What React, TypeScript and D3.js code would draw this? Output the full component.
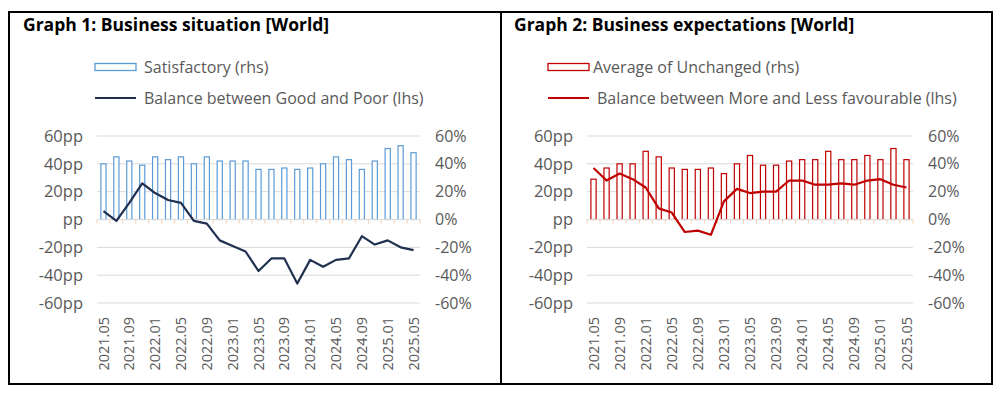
import * as d3 from "d3";

// bi-monthly survey waves
const periods = [
  "2021.05", "2021.07", "2021.09", "2021.11", "2022.01", "2022.03", "2022.05",
  "2022.07", "2022.09", "2022.11", "2023.01", "2023.03", "2023.05", "2023.07",
  "2023.09", "2023.11", "2024.01", "2024.03", "2024.05", "2024.07", "2024.09",
  "2024.11", "2025.01", "2025.03", "2025.05",
];
const tickLabels = [
  "2021.05", "2021.09", "2022.01", "2022.05", "2022.09", "2023.01", "2023.05",
  "2023.09", "2024.01", "2024.05", "2024.09", "2025.01", "2025.05",
];

// Graph 1
const satisfactory = [40, 45, 42, 39, 45, 43, 45, 40, 45, 42, 42, 42, 36, 36, 37, 36, 37, 40, 45, 43, 36, 42, 51, 53, 48];
const balanceGoodPoor = [6, -1, 12, 26, 19, 14, 12, -1, -3, -15, -19, -23, -37, -28, -28, -46, -29, -34, -29, -28, -12, -18, -15, -20, -22];

// Graph 2
const unchanged = [29, 37, 40, 40, 49, 45, 37, 36, 36, 37, 33, 40, 46, 39, 39, 42, 43, 43, 49, 43, 43, 46, 43, 51, 43];
const balanceMoreLess = [37, 28, 33, 29, 23, 8, 5, -9, -8, -11, 13, 22, 19, 20, 20, 28, 28, 25, 25, 26, 25, 28, 29, 25, 23];

const yTicks = [60, 40, 20, 0, -20, -40, -60];

const FONT = "'Open Sans', 'Noto Sans', sans-serif";
const GREY = "#595959";

type PanelProps = {
  title: string;
  barLabel: string;
  lineLabel: string;
  bars: number[];
  line: number[];
  barColor: string;
  lineColor: string;
  titleX: number;
  legendX: number;
  barTextX: number;
  lineTextX: number;
  plotLeft: number;
  plotRight: number;
};

function Panel(p: PanelProps) {
  const x = d3.scaleBand<string>()
    .domain(periods)
    .range([p.plotLeft, p.plotRight])
    .paddingInner(0.6)
    .paddingOuter(0.3);
  const yL = d3.scaleLinear().domain([-60, 60]).range([303, 136]);
  const yR = d3.scaleLinear().domain([-60, 60]).range([303, 136]);
  const cx = (d: string) => (x(d) ?? 0) + x.bandwidth() / 2;
  const boundaries = periods.map((d) => (x(d) ?? 0) - x.step() * 0.3).concat([p.plotRight]);

  const path = d3.line<number>()
    .x((_, i) => cx(periods[i]))
    .y((d) => yL(d))(p.line) ?? "";

  return (
    <g fontFamily={FONT}>
      <text x={p.titleX} y={31} fontWeight={700} fontSize={17.5} fill="#000">
        {p.title}
      </text>

      {/* legend */}
      <rect x={p.legendX} y={63.5} width={41} height={7} fill="#fff" stroke={p.barColor} strokeWidth={1.3} />
      <text x={p.barTextX} y={67} dy="0.35em" fontSize={16} fill={GREY}>{p.barLabel}</text>
      <line x1={p.legendX} x2={p.legendX + 41} y1={98} y2={98} stroke={p.lineColor} strokeWidth={2} />
      <text x={p.lineTextX} y={98} dy="0.35em" fontSize={16} fill={GREY}>{p.lineLabel}</text>

      {/* grid */}
      {yTicks.filter((t) => t !== 0).map((t) => (
        <line key={t} x1={p.plotLeft} x2={p.plotRight} y1={yL(t)} y2={yL(t)} stroke="#d9d9d9" strokeWidth={1} />
      ))}

      {/* left axis (pp) */}
      {yTicks.map((t) => (
        <text key={"l" + t} x={p.plotLeft - 14} y={yL(t)} dy="0.35em" textAnchor="end" fontSize={16.5} fill={GREY}>
          {t === 0 ? "pp" : `${t}pp`}
        </text>
      ))}
      {/* right axis (%) */}
      {yTicks.map((t) => (
        <text key={"r" + t} x={p.plotRight + 15} y={yR(t)} dy="0.35em" textAnchor="start" fontSize={16} fill={GREY}>
          {`${t}%`}
        </text>
      ))}

      {/* bars */}
      {p.bars.map((v, i) => (
        <rect
          key={periods[i]}
          x={x(periods[i])}
          y={yR(v)}
          width={x.bandwidth()}
          height={yR(0) - yR(v)}
          fill="#fff"
          stroke={p.barColor}
          strokeWidth={1.2}
        />
      ))}

      {/* category axis on zero line */}
      <line x1={p.plotLeft} x2={p.plotRight} y1={yL(0)} y2={yL(0)} stroke="#d9d9d9" strokeWidth={1} />
      {boundaries.map((b, i) => (
        <line key={"t" + i} x1={b} x2={b} y1={yL(0)} y2={yL(0) + 4} stroke="#f2cfae" strokeWidth={1} />
      ))}

      <path d={path} fill="none" stroke={p.lineColor} strokeWidth={2.2} strokeLinejoin="round" />

      {/* x labels */}
      {tickLabels.map((d) => (
        <text
          key={d}
          transform={`translate(${cx(d)},317) rotate(-90)`}
          dy="0.35em"
          textAnchor="end"
          fontSize={14.5}
          fill={GREY}
        >
          {d}
        </text>
      ))}
    </g>
  );
}

export default function App() {
  return (
    <svg width={1000} height={394} style={{ position: "absolute", left: 0, top: 0, background: "#fff" }}>
      <rect x={0} y={0} width={1000} height={394} fill="#fff" />
      <Panel
        title="Graph 1: Business situation [World]"
        barLabel="Satisfactory (rhs)"
        lineLabel="Balance between Good and Poor (lhs)"
        bars={satisfactory}
        line={balanceGoodPoor}
        barColor="#5b9bd5"
        lineColor="#1f3050"
        titleX={23}
        legendX={95}
        barTextX={144}
        lineTextX={144}
        plotLeft={97}
        plotRight={420}
      />
      <Panel
        title="Graph 2: Business expectations [World]"
        barLabel="Average of Unchanged (rhs)"
        lineLabel="Balance between More and Less favourable (lhs)"
        bars={unchanged}
        line={balanceMoreLess}
        barColor="#c00000"
        lineColor="#c00000"
        titleX={514}
        legendX={548}
        barTextX={593}
        lineTextX={597}
        plotLeft={587}
        plotRight={913}
      />
      <rect x={9} y={12} width={983} height={372} fill="none" stroke="#000" strokeWidth={2} />
      <line x1={501} x2={501} y1={12} y2={384} stroke="#000" strokeWidth={2} />
    </svg>
  );
}
